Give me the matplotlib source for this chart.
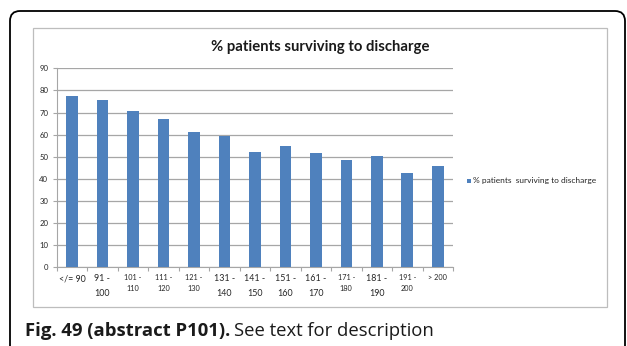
import matplotlib
matplotlib.use("Agg")
import matplotlib.pyplot as plt
from matplotlib.patches import FancyBboxPatch, Rectangle
from matplotlib.transforms import IdentityTransform

categories = ["</= 90", "91 -\n100", "101 -\n110", "111 -\n120", "121 -\n130", "131 -\n140",
              "141 -\n150", "151 -\n160", "161 -\n170", "171 -\n180", "181 -\n190", "191 -\n200", "> 200"]
values = [77.5, 75.6, 70.8, 67.2, 61.2, 59.5, 52.3, 54.7, 51.5, 48.6, 50.1, 42.6, 45.9]
small_label = [False, False, True, True, True, False, False, False, False, True, False, True, True]
series_name = "% patients  surviving to discharge"
title = "% patients surviving to discharge"
yticks = list(range(0, 100, 10))

W, H = 627, 346
fig = plt.figure(figsize=(W / 100, H / 100), dpi=100)
fig.patch.set_facecolor("white")

# outer rounded box (pixel coords)
outer = FancyBboxPatch((10, -20), 615, 355, boxstyle="round,pad=0,rounding_size=10",
                       transform=IdentityTransform(), fill=False, edgecolor="black",
                       linewidth=1.3, figure=fig)
fig.patches.append(outer)

# chart frame
frame = Rectangle((33 / W, 1 - 307 / H), (607 - 33) / W, (307 - 28) / H,
                  transform=fig.transFigure, fill=False, edgecolor="#bdbdbd", linewidth=0.9)
fig.patches.append(frame)

ax = fig.add_axes([56.7 / W, 1 - 267.2 / H, (453 - 56.7) / W, (267.2 - 68.3) / H])
blue = "#4f81bd"
x = list(range(len(categories)))
ax.bar(x, values, width=0.38, color=blue, zorder=3)
ax.set_xlim(-0.5, len(categories) - 0.5)
ax.set_ylim(0, 90)
ax.set_yticks(yticks)
ax.set_yticklabels([str(v) for v in yticks], fontsize=5.6, family="Lato", color="#262626")
ax.yaxis.grid(True, color="#a6a6a6", linewidth=0.9, zorder=0)
for s in ["top", "right"]:
    ax.spines[s].set_visible(False)
ax.spines["left"].set_color("#a6a6a6")
ax.spines["bottom"].set_color("#a6a6a6")
ax.tick_params(axis="y", length=3, color="#a6a6a6", pad=3)
# x ticks between categories
ax.set_xticks([i - 0.5 for i in range(len(categories) + 1)])
ax.set_xticklabels([])
ax.tick_params(axis="x", which="major", length=3, color="#a6a6a6")
ax.set_xticks(x, minor=True)
ax.set_xticklabels(categories, minor=True)
ax.tick_params(axis="x", which="minor", length=0, pad=5)
for lbl, sm in zip(ax.get_xticklabels(minor=True), small_label):
    lbl.set_family("Lato")
    lbl.set_color("#262626")
    lbl.set_fontsize(5.3 if sm else 6.4)
    lbl.set_linespacing(1.9 if not sm else 1.7)
    lbl.set_va("top")

fig.text(320 / W, 1 - 47 / H, title, fontsize=10.7, fontweight="bold", family="Lato",
         ha="center", va="center", color="#1a1a1a")

# legend
fig.patches.append(Rectangle((467 / W, 1 - 183 / H), 4 / W, 4 / H, transform=fig.transFigure,
                             facecolor=blue, edgecolor="none"))
fig.text(473 / W, 1 - 181 / H, series_name, fontsize=6.0, family="Lato", va="center",
         ha="left", color="#262626")

# caption
t1 = fig.text(25 / W, 1 - 331 / H, "Fig. 49 (abstract P101).", fontsize=13.3, fontweight="bold",
              family="Open Sans", va="center", ha="left", color="#1a1a1a")
r = fig.canvas.get_renderer()
bb = t1.get_window_extent(r)
fig.text((bb.x1 + 4) / W, 1 - 331 / H, "See text for description", fontsize=13.3,
         family="Open Sans", va="center", ha="left", color="#1a1a1a")

fig.savefig("out.png", dpi=100, facecolor="white")
